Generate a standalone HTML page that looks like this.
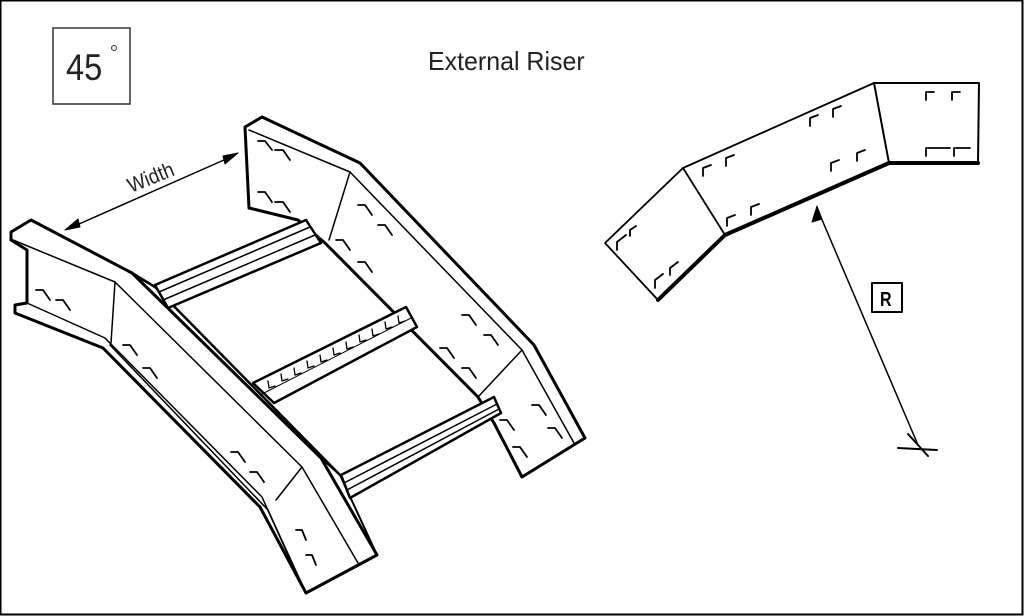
<!DOCTYPE html>
<html><head><meta charset="utf-8"><style>
html,body{margin:0;padding:0;background:#fff;}
svg{display:block;}
text{font-family:"Liberation Sans",sans-serif;}
</style></head><body>
<svg width="1024" height="616" viewBox="0 0 1024 616" xmlns="http://www.w3.org/2000/svg">
<rect x="0.5" y="0.5" width="1022" height="614" fill="#fff" stroke="#000" stroke-width="2"/>
<rect x="53" y="28" width="77" height="76" fill="none" stroke="#333" stroke-width="1.5"/>
<text x="66" y="80" font-size="37" fill="#222" transform="translate(66 0) scale(0.88 1) translate(-66 0)">45</text>
<circle cx="114" cy="48" r="2.5" fill="none" stroke="#333" stroke-width="1"/>
<text x="428" y="70" font-size="26" fill="#222" transform="translate(428 0) scale(0.96 1) translate(-428 0)">External Riser</text>

<g fill="none" stroke="#000" stroke-linejoin="round" stroke-linecap="round">
<line x1="70" y1="228" x2="233" y2="156" stroke-width="1.5"/>
<polygon points="65,230 78,219 80,227" fill="#000" stroke-width="1"/>
<polygon points="238,153 225,164 223,156" fill="#000" stroke-width="1"/>
<polyline points="11,240 11,232 31,220 132,273 321,458 377,555 306,593 260,507 103,348 15,313 15,305 27,303 27,250 11,240" stroke-width="3"/>
<polyline points="13,240 115,282 302,467 358,563" stroke-width="1.5"/>
<polyline points="27,303 105,338 262,497 301,584" stroke-width="1.5"/>
<polyline points="15,313 103,348" stroke-width="2"/>
<line x1="115" y1="282" x2="111" y2="343" stroke-width="1.5"/>
<line x1="302" y1="467" x2="276" y2="500" stroke-width="1.5"/>
<polyline points="132,273 155,287 340,475" stroke-width="2.5"/>
<polyline points="321,458 340,475 377,555" stroke-width="2"/>
<line x1="110" y1="345" x2="268" y2="510" stroke-width="1.5"/>
<line x1="306" y1="593" x2="268" y2="510" stroke-width="1.5"/>
<polyline points="249,208 245,127 262,117 360,163 534,345 585,438 522,477 494,423 478,397 325,243 298,220 249,208" stroke-width="3"/>
<polyline points="249,130 350,172 522,350 574,443" stroke-width="1.5"/>
<line x1="350" y1="172" x2="329" y2="240" stroke-width="1.5"/>
<line x1="522" y1="350" x2="478" y2="397" stroke-width="1.5"/>
<polygon points="155,285 306,220 321,243 168,308" fill="#fff" stroke-width="2.5"/>
<line x1="159" y1="292" x2="310" y2="227" stroke-width="1.5"/>
<line x1="163" y1="300" x2="315" y2="235" stroke-width="1.5"/>
<polygon points="253,383 406,307 417,327 274,403" fill="#fff" stroke-width="2.5"/>
<line x1="262" y1="394" x2="411" y2="318" stroke-width="1"/>
<g stroke-width="1.3">
<polyline points="268,381 269,388 275,386"/><polyline points="281,374 282,381 288,379"/><polyline points="294,368 295,375 301,373"/><polyline points="307,361 308,368 314,366"/><polyline points="320,355 321,362 327,360"/><polyline points="333,348 334,355 340,353"/><polyline points="346,342 347,349 353,347"/><polyline points="359,335 360,342 366,340"/><polyline points="372,329 373,336 379,334"/><polyline points="385,322 386,329 392,327"/><polyline points="398,316 399,323 405,321"/>
</g>
<polygon points="341,475 494,397 501,413 350,498" fill="#fff" stroke-width="2.5"/>
<line x1="344" y1="483" x2="497" y2="404" stroke-width="1.5"/>
<line x1="347" y1="490" x2="499" y2="409" stroke-width="1.5"/>
<g stroke-width="1.8">
<polyline points="258,141 265,141 272,150"/><polyline points="275,150 283,150 290,160"/>
<polyline points="258,192 265,192 272,202"/><polyline points="275,202 283,202 290,212"/>
<polyline points="358,205 365,205 372,215"/><polyline points="378,225 385,225 392,235"/>
<polyline points="336,240 343,240 350,250"/><polyline points="358,262 365,262 372,272"/>
<polyline points="462,315 469,315 476,325"/><polyline points="484,335 491,335 498,345"/>
<polyline points="440,348 447,348 454,358"/><polyline points="462,368 469,368 476,378"/>
<polyline points="532,405 539,405 546,415"/><polyline points="548,428 555,428 562,438"/>
<polyline points="500,420 507,420 514,430"/><polyline points="513,447 520,447 527,457"/>
<polyline points="36,290 43,290 50,300"/><polyline points="56,300 63,300 70,310"/>
<polyline points="123,345 130,345 137,355"/><polyline points="143,368 150,368 157,378"/>
<polyline points="231,452 238,452 245,462"/><polyline points="250,472 257,472 264,482"/>
<polyline points="296,530 302,530 306,540"/><polyline points="306,555 312,555 316,565"/>
</g>
<polyline points="874,83 979,83 978,163 889,163 874,83" stroke-width="2"/>
<polyline points="874,83 683,168 605,243 658,300" stroke-width="1.8"/>
<line x1="683" y1="168" x2="725" y2="235" stroke-width="1.8"/>
<polyline points="658,300 725,235 889,163 978,163" stroke-width="4"/>
<g stroke-width="1.8">
<polyline points="926,100 926,92 934,92"/><polyline points="952,100 952,92 960,92"/>
<polyline points="926,156 926,148 950,148"/><polyline points="954,156 954,148 970,148"/>
<polyline points="810,126 810,118 818,115"/><polyline points="833,117 833,109 841,106"/>
<polyline points="831,171 831,163 839,160"/><polyline points="857,161 857,153 865,150"/>
<polyline points="703,176 703,168 711,165"/><polyline points="726,166 726,158 734,155"/>
<polyline points="727,226 727,218 735,215"/><polyline points="751,215 751,207 759,204"/>
<polyline points="617,250 617,242 626,235"/><polyline points="630,236 630,230 636,226"/>
<polyline points="655,288 655,280 663,274"/><polyline points="670,275 670,268 678,262"/>
</g>
<line x1="817" y1="208" x2="918" y2="445" stroke-width="1.5"/>
<polygon points="817,206 812,222 822,219" fill="#000" stroke-width="1"/>
<line x1="908" y1="434" x2="928" y2="456" stroke-width="2"/>
<line x1="898" y1="448" x2="937" y2="450" stroke-width="2"/>
<rect x="872" y="283" width="30" height="29" stroke-width="2"/>
</g>
<text x="880" y="306" font-size="20" font-weight="bold" fill="#000" transform="translate(880 0) scale(0.8 1) translate(-880 0)">R</text>
<text x="0" y="0" font-size="21" fill="#222" transform="translate(131 193) rotate(-22) scale(0.9 1)">Width</text>
</svg>
</body></html>
